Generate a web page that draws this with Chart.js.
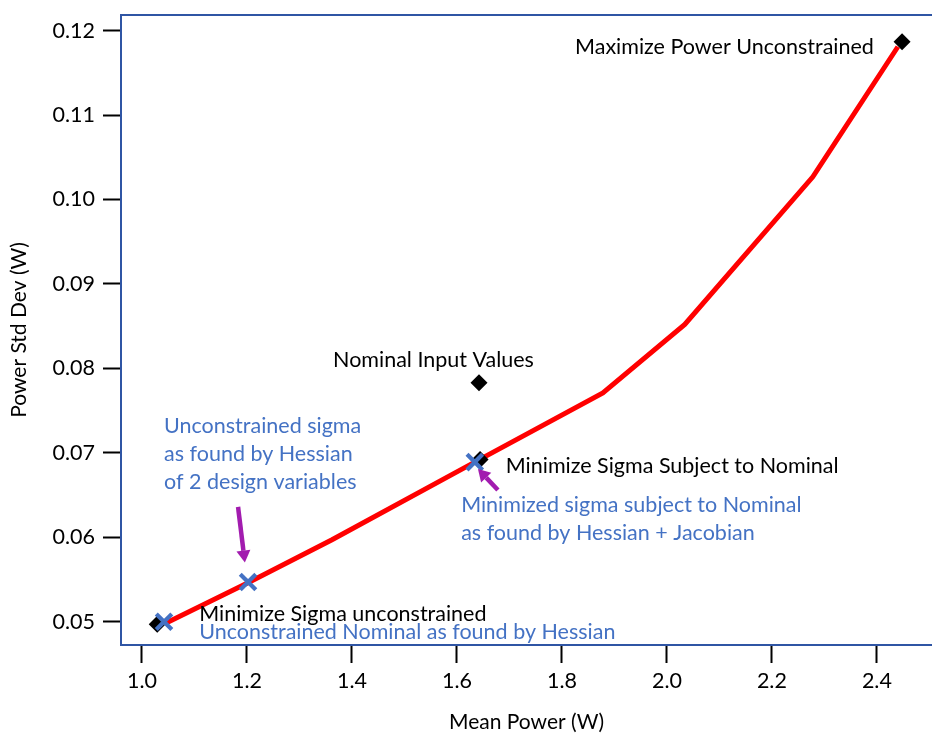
<!DOCTYPE html>
<html>
<head>
<meta charset="utf-8">
<script src="https://cdn.jsdelivr.net/npm/chart.js@4.4.1/dist/chart.umd.min.js"></script>
<style>
  html, body { margin: 0; padding: 0; background: #fff; }
  #wrap { width: 932px; height: 735px; }
</style>
</head>
<body>
<div id="wrap"><canvas id="chart" width="932" height="735"></canvas></div>
<script>
const xTicks = [1.0, 1.2, 1.4, 1.6, 1.8, 2.0, 2.2, 2.4]
const yTicks = [0.05, 0.06, 0.07, 0.08, 0.09, 0.10, 0.11, 0.12]

// red trade-off curve
const curveX = [1.044, 1.202, 1.362, 1.634, 1.878, 2.034, 2.278, 2.440]
const curveY = [0.0498, 0.0546, 0.0597, 0.0689, 0.0771, 0.0852, 0.1027, 0.1181]

// black diamonds (optimiser runs)
const optX = [1.029, 1.642, 1.644, 2.448]
const optY = [0.0497, 0.0783, 0.0692, 0.1187]

// blue crosses (Hessian / Jacobian estimates)
const hessX = [1.042, 1.202, 1.634]
const hessY = [0.0500, 0.0547, 0.0689]

// annotations, anchored in data units
const blackNotes = ['Maximize Power Unconstrained', 'Nominal Input Values', 'Minimize Sigma Subject to Nominal', 'Minimize Sigma unconstrained']
const blackNoteX = [1.825, 1.364, 1.693, 1.109]
const blackNoteY = [0.1172, 0.0802, 0.0676, 0.0501]
const blueNotes = ['Unconstrained Nominal as found by Hessian', 'Unconstrained sigma', 'as found by Hessian', 'of 2 design variables', 'Minimized sigma subject to Nominal', 'as found by Hessian + Jacobian']
const blueNoteX = [1.109, 1.042, 1.042, 1.042, 1.608, 1.608]
const blueNoteY = [0.0480, 0.0724, 0.0690, 0.0657, 0.0630, 0.0597]
const arrowFrom = [[1.183, 0.0636], [1.678, 0.0656]]
const arrowTo = [[1.196, 0.0570], [1.640, 0.0681]]

const frameColor = '#2f55a4'
const blue = '#4472c4'
const purple = '#a21caf'
const font = { family: 'Lato', size: 21.5 }

function pts(xs, ys) {
  return xs.map((x, i) => ({ x: x, y: ys[i] }))
}

function drawArrow(ctx, x1, y1, x2, y2) {
  const ang = Math.atan2(y2 - y1, x2 - x1)
  const head = 12
  const bx = x2 - Math.cos(ang) * head
  const by = y2 - Math.sin(ang) * head
  ctx.strokeStyle = purple
  ctx.fillStyle = purple
  ctx.lineWidth = 4.5
  ctx.beginPath()
  ctx.moveTo(x1, y1)
  ctx.lineTo(bx, by)
  ctx.stroke()
  ctx.beginPath()
  ctx.moveTo(x2, y2)
  ctx.lineTo(bx + Math.sin(ang) * 7, by - Math.cos(ang) * 7)
  ctx.lineTo(bx - Math.sin(ang) * 7, by + Math.cos(ang) * 7)
  ctx.closePath()
  ctx.fill()
}

const notesPlugin = {
  id: 'notes',
  afterDatasetsDraw(chart) {
    const { ctx, chartArea, scales: { x, y } } = chart
    ctx.save()
    ctx.strokeStyle = frameColor
    ctx.lineWidth = 2
    ctx.beginPath()
    ctx.moveTo(chartArea.left - 1, chartArea.top)
    ctx.lineTo(chartArea.right, chartArea.top)
    ctx.stroke()

    ctx.font = `${font.size}px ${font.family}`
    ctx.textAlign = 'left'
    ctx.textBaseline = 'alphabetic'
    ctx.fillStyle = '#000'
    blackNotes.forEach((t, i) => {
      ctx.fillText(t, x.getPixelForValue(blackNoteX[i]), y.getPixelForValue(blackNoteY[i]))
    })
    ctx.fillStyle = blue
    blueNotes.forEach((t, i) => {
      ctx.fillText(t, x.getPixelForValue(blueNoteX[i]), y.getPixelForValue(blueNoteY[i]))
    })
    arrowFrom.forEach((a, i) => {
      drawArrow(ctx,
        x.getPixelForValue(a[0]), y.getPixelForValue(a[1]),
        x.getPixelForValue(arrowTo[i][0]), y.getPixelForValue(arrowTo[i][1]))
    })
    ctx.restore()
  }
}

new Chart(document.getElementById('chart'), {
  type: 'scatter',
  data: {
    datasets: [
      {
        label: 'Hessian',
        data: pts(hessX, hessY),
        pointStyle: 'crossRot',
        pointRadius: 11,
        pointBorderWidth: 4.2,
        borderColor: blue,
        backgroundColor: blue,
        order: 0
      },
      {
        label: 'Optimiser',
        data: pts(optX, optY),
        pointStyle: 'rectRot',
        pointRadius: 8.5,
        pointBorderWidth: 0,
        borderColor: '#000',
        backgroundColor: '#000',
        order: 1
      },
      {
        label: 'Curve',
        data: pts(curveX, curveY),
        showLine: true,
        borderColor: '#ff0000',
        borderWidth: 5,
        pointRadius: 0,
        order: 2
      }
    ]
  },
  options: {
    responsive: false,
    animation: false,
    layout: { autoPadding: false, padding: { top: 15, right: 0, left: 0, bottom: 0 } },
    plugins: { legend: { display: false }, tooltip: { enabled: false } },
    scales: {
      x: {
        type: 'linear',
        min: 0.96,
        max: 2.505,
        afterBuildTicks: s => { s.ticks = xTicks.map(v => ({ value: v })) },
        afterFit: s => { s.height = 90; s.paddingLeft = 0; s.paddingRight = 0 },
        grid: { drawOnChartArea: false, drawTicks: true, tickLength: 18, tickWidth: 2, tickColor: '#000' },
        border: { color: frameColor, width: 2 },
        ticks: { color: '#000', font: font, padding: 5, maxRotation: 0, callback: v => v.toFixed(1) },
        title: { display: true, text: 'Mean Power (W)', color: '#000', font: { family: 'Lato', size: 21 }, padding: { top: 0, bottom: 0 } }
      },
      y: {
        type: 'linear',
        min: 0.04724,
        max: 0.12186,
        afterBuildTicks: s => { s.ticks = yTicks.map(v => ({ value: v })) },
        afterFit: s => { s.width = 121; s.paddingTop = 0; s.paddingBottom = 0 },
        grid: { drawOnChartArea: false, drawTicks: true, tickLength: 18, tickWidth: 2, tickColor: '#000' },
        border: { color: frameColor, width: 2 },
        ticks: { color: '#000', font: font, padding: 8, callback: v => v.toFixed(2) },
        title: { display: true, text: 'Power Std Dev (W)', color: '#000', font: { family: 'Lato', size: 21 }, padding: { top: 7, bottom: 0 } }
      }
    }
  },
  plugins: [notesPlugin]
})
</script>
</body>
</html>
